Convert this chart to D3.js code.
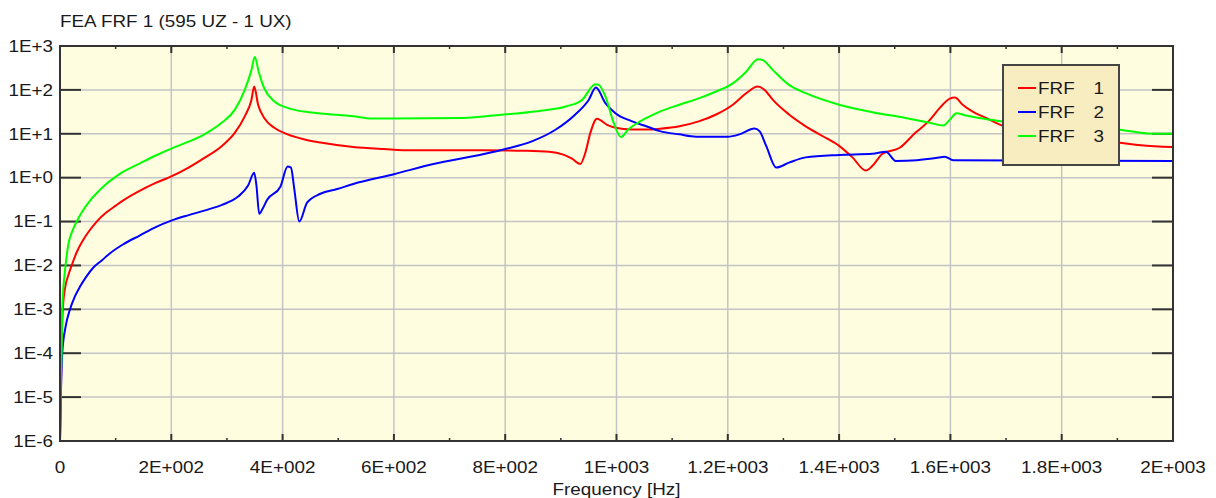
<!DOCTYPE html>
<html><head><meta charset="utf-8">
<script src="https://cdn.jsdelivr.net/npm/d3@7"></script>
<style>body{margin:0;background:#fff;}svg{display:block;}</style>
</head><body><svg id="c" width="1216" height="498"></svg>
<script>
const chartTitle = "FEA FRF 1 (595 UZ - 1 UX)";
const xAxisTitle = "Frequency [Hz]";
const xTickValues = [0,200,400,600,800,1000,1200,1400,1600,1800,2000];
const xTickLabels = ["0","2E+002","4E+002","6E+002","8E+002","1E+003","1.2E+003","1.4E+003","1.6E+003","1.8E+003","2E+003"];
const xMinorTicks = [100,300,500,700,900,1100,1300,1500,1700,1900];
const yTickValues = [1e-6,1e-5,1e-4,1e-3,1e-2,1e-1,1e0,1e1,1e2,1e3];
const yTickLabels = ["1E-6","1E-5","1E-4","1E-3","1E-2","1E-1","1E+0","1E+1","1E+2","1E+3"];
const seriesNames = ["FRF","FRF","FRF"];
const seriesNumbers = ["1","2","3"];
const seriesColors = ["#ff0000","#0000ff","#00ff00"];

const freq1 = [0,1.5,2.7,5,10,15,21,30,40,52,66,83,100,113,143,172,195,231,261,291,314,332,344,349,356,367,385,409,438,468,527,582,633,760,837,879,903,920,935,944,953,965,983,998,1027,1060,1078,1113,1149,1179,1209,1233,1254,1266,1281,1310,1340,1370,1400,1424,1448,1460,1478,1509,1537,1561,1581,1599,1608,1622,1640,1664,1690,1750,1800,1850,1901,1942,2000];
const frf1 = [1e-6,1e-5,1e-4,1e-3,3.5e-3,6e-3,1e-2,0.02,0.035,0.06,0.1,0.16,0.23,0.30,0.50,0.76,1.0,1.7,2.9,5.3,10.5,25,59,119,46,23,13.7,9.7,7.5,6.3,5.0,4.5,4.2,4.2,4.1,3.9,3.4,2.7,2.05,3.7,10.5,22,16,13.7,12.5,12.5,13,14.8,19.4,27.5,46,84,119,100,59,27.5,14.8,8.9,5.3,2.9,1.45,1.86,3.5,4.8,10.5,19.4,39,63,67,46,32,23,16,11,8.5,7.2,6.3,5.5,5.0];

const freq2 = [0,1.5,4,10,18,27,36,47,60,75,90,113,143,172,200,231,261,291,320,338,349,353,358,364,372,396,409,415,421,430,444,468,498,527,600,671,760,800,849,891,926,950,963,980,998,1027,1057,1078,1113,1143,1200,1221,1248,1257,1269,1287,1310,1340,1400,1460,1484,1502,1540,1574,1590,1605,2000];
const frf2 = [1e-6,1e-5,1e-4,4e-4,1e-3,0.002,0.0033,0.0055,0.009,0.013,0.019,0.03,0.048,0.075,0.105,0.14,0.18,0.24,0.37,0.66,1.3,0.66,0.15,0.195,0.31,0.62,1.8,1.7,0.55,0.1,0.27,0.43,0.55,0.72,1.2,2.05,3.4,4.5,6.8,12.5,27.5,59,113,50,29.5,19.4,14.3,11.5,9.7,8.6,8.6,9.7,13.2,11.5,5.3,1.7,2.2,2.9,3.3,3.5,3.9,2.4,2.5,2.8,3.0,2.5,2.4];

const freq3 = [0,1.5,3,4,10,15,22,30,40,54,70,83,98,113,143,172,200,231,258,291,314,332,344,350,357,367,385,409,438,468,527,560,725,778,820,867,909,938,962,968,980,995,1008,1021,1039,1057,1078,1113,1149,1179,1209,1233,1254,1263,1281,1310,1340,1400,1460,1519,1563,1587,1599,1611,1628,1658,1690,1750,1800,1850,1901,1954,2000];
const frf3 = [1e-6,3e-5,1e-4,1e-3,1e-2,0.03,0.06,0.1,0.17,0.3,0.5,0.72,1.0,1.35,2.1,3.2,4.6,6.6,9.5,18,35,100,282,560,260,109,55,39,32,29,25,22.3,23,26,29,34,42,59,134,130,71,17.8,8.4,12.5,18,24,32,46,65,92,141,260,500,475,282,130,84,46,31,23,17.8,15.5,21,29.5,26,22.3,19.4,17,15,13.5,12.5,10.2,10];

const series = [
  {f:freq1, v:frf1},
  {f:freq2, v:frf2},
  {f:freq3, v:frf3}
];

const svg = d3.select("#c");
const L=60, R=1173, T=46, B=441;
const x = d3.scaleLinear().domain([0,2000]).range([L,R]);
const y = d3.scaleLog().domain([1e-6,1e3]).range([B,T]).clamp(true);
const FONT = "'Liberation Sans', Arial, sans-serif";
const SX = 1.18;
const txtCol = "#1a1a1a";

svg.append("rect").attr("x",L).attr("y",T).attr("width",R-L).attr("height",B-T).attr("fill","#fffde0");

const g = svg.append("g");
g.selectAll(".gx").data(xTickValues.slice(1,-1)).enter().append("line")
  .attr("x1",d=>x(d)).attr("x2",d=>x(d)).attr("y1",T).attr("y2",B)
  .attr("stroke","#c4c4c4").attr("stroke-width",1.5);
g.selectAll(".gy").data(yTickValues.slice(1,-1)).enter().append("line")
  .attr("x1",L).attr("x2",R).attr("y1",d=>y(d)).attr("y2",d=>y(d))
  .attr("stroke","#c4c4c4").attr("stroke-width",1.5);

const tk = svg.append("g").attr("stroke","#333").attr("stroke-width",2);
yTickValues.slice(1,-1).forEach(d=>{
  tk.append("line").attr("x1",L).attr("x2",L+21).attr("y1",y(d)).attr("y2",y(d));
  tk.append("line").attr("x1",R-21).attr("x2",R).attr("y1",y(d)).attr("y2",y(d));
});
xTickValues.slice(1,-1).forEach(d=>{
  tk.append("line").attr("x1",x(d)).attr("x2",x(d)).attr("y1",T).attr("y2",T+7);
  tk.append("line").attr("x1",x(d)).attr("x2",x(d)).attr("y1",B-7).attr("y2",B);
});
xMinorTicks.forEach(d=>{
  tk.append("line").attr("x1",x(d)).attr("x2",x(d)).attr("y1",T).attr("y2",T+3).attr("stroke-width",1.5);
  tk.append("line").attr("x1",x(d)).attr("x2",x(d)).attr("y1",B-3).attr("y2",B).attr("stroke-width",1.5);
});

svg.append("clipPath").attr("id","clip").append("rect").attr("x",L).attr("y",T-1).attr("width",R-L).attr("height",B-T+1);

const line = d3.line().x(d=>x(d[0])).y(d=>y(d[1])).curve(d3.curveMonotoneX);
const lg = svg.append("g").attr("clip-path","url(#clip)");
series.forEach((s,i)=>{
  const pts = s.f.map((f,j)=>[f,s.v[j]]);
  lg.append("path").datum(pts).attr("d",line).attr("fill","none")
    .attr("stroke",seriesColors[i]).attr("stroke-width",2).attr("stroke-linejoin","round");
});

svg.append("rect").attr("x",L).attr("y",T).attr("width",R-L).attr("height",B-T)
  .attr("fill","none").attr("stroke","#333").attr("stroke-width",2);

function stext(xp,yp,str,anchor,size){
  return svg.append("text").attr("transform",`translate(${xp},${yp}) scale(${SX},1)`)
    .attr("text-anchor",anchor).attr("font-family",FONT).attr("font-size",size||16)
    .attr("fill",txtCol).text(str);
}

stext(60,26.5,chartTitle,"start");
yTickValues.forEach((d,i)=>stext(53,y(d)+5.8,yTickLabels[i],"end"));
xTickValues.forEach((d,i)=>stext(x(d),472.5,xTickLabels[i],"middle"));
stext((L+R)/2,495,xAxisTitle,"middle");

const lgX=1003, lgY=65, lgW=116, lgH=100;
svg.append("rect").attr("x",lgX).attr("y",lgY).attr("width",lgW).attr("height",lgH)
  .attr("fill","#f8edc0").attr("stroke","#444").attr("stroke-width",2);
seriesNames.forEach((n,i)=>{
  const cy = 88 + i*24;
  svg.append("line").attr("x1",1018).attr("x2",1036).attr("y1",cy).attr("y2",cy)
    .attr("stroke",seriesColors[i]).attr("stroke-width",2);
  stext(1038,cy+5.8,n,"start");
  stext(1104,cy+5.8,seriesNumbers[i],"end");
});
</script></body></html>
